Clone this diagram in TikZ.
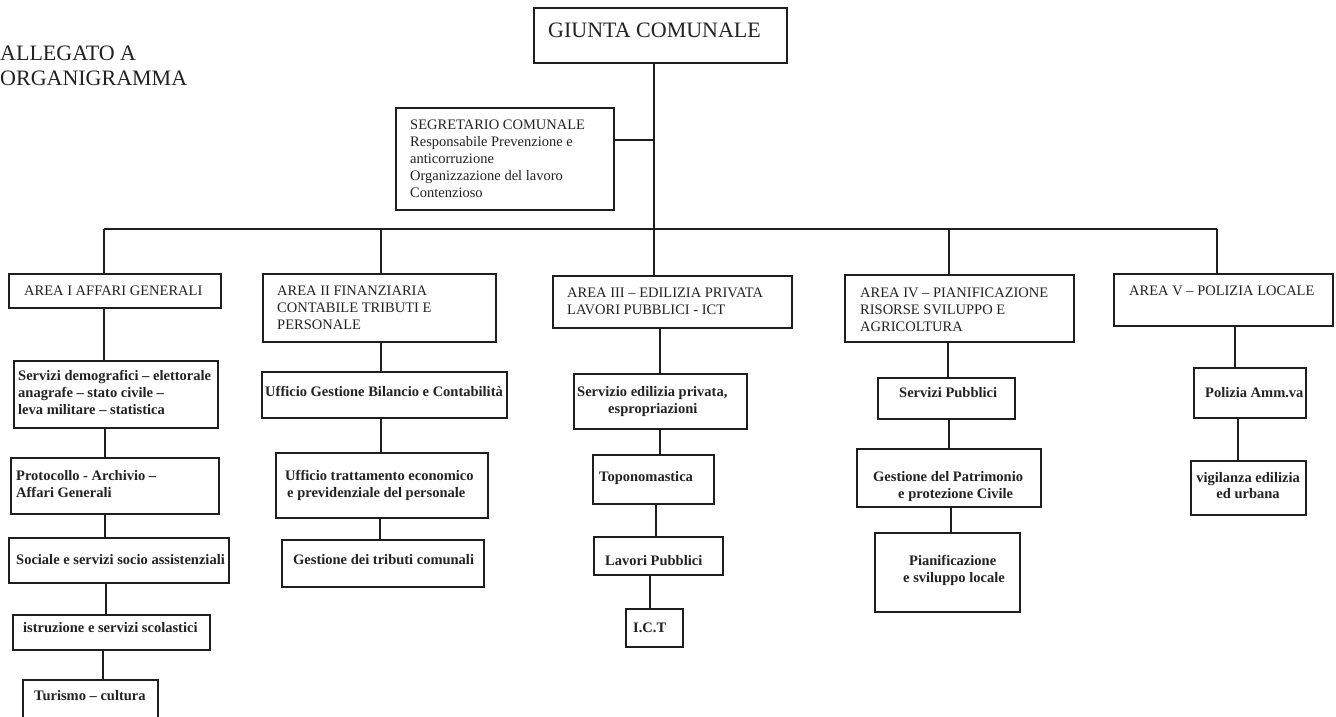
\documentclass[tikz,border=0pt]{standalone}
\usepackage{fontspec}
\setmainfont{Liberation Serif}
\definecolor{ink}{HTML}{1E1E1E}
\definecolor{txt}{HTML}{222222}
\tikzset{
  box/.style={draw=ink, line width=1.5pt, inner sep=0pt, outer sep=0pt, anchor=north west},
  conn/.style={draw=ink, line width=1.3pt},
  lab/.style={inner sep=0pt, anchor=base west, text=txt, font=\fontsize{14.5}{17}\selectfont},
  blab/.style={lab, font=\fontsize{14.5}{17}\selectfont\bfseries},
  cblab/.style={blab, anchor=base},
  ttl/.style={inner sep=0pt, anchor=base west, text=txt, font=\fontsize{22}{24}\selectfont}
}
\newcommand\bx[5]{\node[box, minimum width={(#4)-(#2)}, minimum height={(#5)-(#3)}] (#1) at (#2,#3) {};}
\newcommand\vl[3]{\draw[conn] (#2.south -| #1,0) -- (#3.north -| #1,0);}
\begin{document}
\begin{tikzpicture}[x=1pt,y=-1pt]
\fill[white] (0,0) rectangle (1336,717);
\clip (0,0) rectangle (1336,717);

% titles
\node[ttl] (all1) at (0,61) {ALLEGATO A};
\node[ttl] (all2) at (0,85) {ORGANIGRAMMA};

% top
\bx{giunta}{534}{8}{787}{63}
\node[ttl] (gt) at (548,38) {GIUNTA COMUNALE};

\bx{seg}{396}{108}{614}{210}
\node[lab] (seg1) at (410,129) {SEGRETARIO COMUNALE};
\node[lab] (seg2) at (410,146) {Responsabile Prevenzione e};
\node[lab] (seg3) at (410,163) {anticorruzione};
\node[lab] (seg4) at (410,180) {Organizzazione del lavoro};
\node[lab] (seg5) at (410,197) {Contenzioso};

% areas
\bx{a1}{9}{274}{221}{308}
\node[lab] (a1t) at (24,295) {AREA I AFFARI GENERALI};

\bx{a2}{263}{274}{496}{342}
\node[lab] (a2t1) at (277,295) {AREA II FINANZIARIA};
\node[lab] (a2t2) at (277,312) {CONTABILE TRIBUTI E};
\node[lab] (a2t3) at (277,329) {PERSONALE};

\bx{a3}{553}{276}{792}{328}
\node[lab] (a3t1) at (567,297) {AREA III – EDILIZIA PRIVATA};
\node[lab] (a3t2) at (567,314) {LAVORI PUBBLICI - ICT};

\bx{a4}{845}{275}{1074}{342}
\node[lab] (a4t1) at (860,297) {AREA IV – PIANIFICAZIONE};
\node[lab] (a4t2) at (860,314) {RISORSE SVILUPPO E};
\node[lab] (a4t3) at (860,331) {AGRICOLTURA};

\bx{a5}{1114}{274}{1333}{326}
\node[lab] (a5t) at (1129,295) {AREA V – POLIZIA LOCALE};

% area I children
\bx{s1}{14}{361}{218}{428}
\node[blab] (s1a) at (18,380) {Servizi demografici – elettorale};
\node[blab] (s1b) at (18,397) {anagrafe – stato civile –};
\node[blab] (s1c) at (18,414) {leva militare – statistica};
\bx{p1}{11}{458}{219}{514}
\node[blab] (p1a) at (16,480) {Protocollo - Archivio –};
\node[blab] (p1b) at (16,497) {Affari Generali};
\bx{so1}{9}{538}{229}{583}
\node[blab] (so1a) at (16,564) {Sociale e servizi socio assistenziali};
\bx{is1}{13}{615}{210}{650}
\node[blab] (is1a) at (23,632) {istruzione e servizi scolastici};
\bx{tu1}{23}{680}{158}{740}
\node[blab] (tu1a) at (34,700) {Turismo – cultura};

% area II children
\bx{u1}{262}{372}{507}{418}
\node[blab] (u1a) at (265,396) {Ufficio Gestione Bilancio e Contabilità};
\bx{u2}{276}{453}{488}{518}
\node[blab] (u2a) at (285,480) {Ufficio trattamento economico};
\node[blab] (u2b) at (287,497) {e previdenziale del personale};
\bx{g1}{282}{540}{484}{587}
\node[blab] (g1a) at (293,564) {Gestione dei tributi comunali};

% area III children
\bx{se}{574}{374}{747}{429}
\node[blab] (sea) at (577,396) {Servizio edilizia privata,};
\node[blab] (seb) at (608,413) {espropriazioni};
\bx{to}{593}{455}{714}{504}
\node[blab] (toa) at (599,481) {Toponomastica};
\bx{lp}{594}{537}{723}{575}
\node[blab] (lpa) at (605,565) {Lavori Pubblici};
\bx{ict}{626}{609}{683}{647}
\node[blab] (icta) at (633,632) {I.C.T};

% area IV children
\bx{sp}{878}{378}{1015}{419}
\node[blab] (spa) at (899,397) {Servizi Pubblici};
\bx{gp}{857}{449}{1041}{507}
\node[blab] (gpa) at (873,481) {Gestione del Patrimonio};
\node[blab] (gpb) at (898,498) {e protezione Civile};
\bx{pi}{875}{533}{1020}{612}
\node[blab] (pia) at (909,565) {Pianificazione};
\node[blab] (pib) at (903,582) {e sviluppo locale};

% area V children
\bx{pa}{1194}{368}{1306}{418}
\node[blab] (paa) at (1205,397) {Polizia Amm.va};
\bx{vi}{1191}{461}{1306}{515}
\node[cblab] (via) at (1248,482) {vigilanza edilizia};
\node[cblab] (vib) at (1248,498) {ed urbana};

% connectors: top
\coordinate (sj) at (654,140);
\draw[conn] (seg.east |- sj) -- (sj);
\vl{654}{giunta}{a3}
\coordinate (busL) at (104,229);
\coordinate (bus2) at (381,229);
\coordinate (bus4) at (949,229);
\coordinate (busR) at (1217,229);
\draw[conn] (busL) -- (busR);
\draw[conn] (busL) -- (a1.north -| busL);
\draw[conn] (bus2) -- (a2.north -| bus2);
\draw[conn] (bus4) -- (a4.north -| bus4);
\draw[conn] (busR) -- (a5.north -| busR);

% column I
\vl{104}{a1}{s1}
\vl{105}{s1}{p1}
\vl{105}{p1}{so1}
\vl{106}{so1}{is1}
\vl{103}{is1}{tu1}
% column II
\vl{381}{a2}{u1}
\vl{381}{u1}{u2}
\vl{380}{u2}{g1}
% column III
\vl{660}{a3}{se}
\vl{660}{se}{to}
\vl{656}{to}{lp}
\vl{650}{lp}{ict}
% column IV
\vl{948}{a4}{sp}
\vl{949}{sp}{gp}
\vl{951}{gp}{pi}
% column V
\vl{1235}{a5}{pa}
\vl{1238}{pa}{vi}
\end{tikzpicture}
\end{document}
